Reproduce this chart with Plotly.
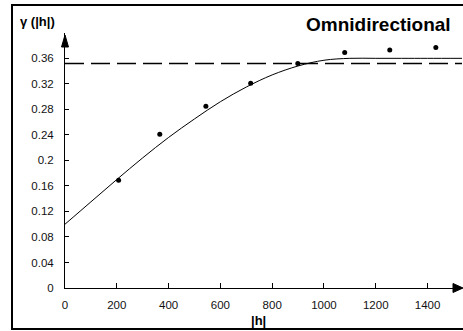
import plotly.graph_objects as go

# Experimental variogram points
lag = [207, 366, 544, 717, 899, 1080, 1254, 1432]
gamma = [0.169, 0.241, 0.285, 0.321, 0.352, 0.369, 0.373, 0.377]

# Fitted model curve
model_h = [0, 100, 200, 300, 400, 500, 600, 700, 800, 900, 1000, 1100, 1200, 1300, 1400, 1533]
model_g = [0.100, 0.135, 0.170, 0.204, 0.236, 0.265, 0.292, 0.315, 0.334, 0.348, 0.357, 0.360, 0.360, 0.360, 0.360, 0.360]

# Sill (dashed)
sill_h = [0, 1533]
sill_g = [0.352, 0.352]

x_ticks = [0, 200, 400, 600, 800, 1000, 1200, 1400]
x_ticktext = ["0", "200", "400", "600", "800", "1000", "1200", "1400"]
y_ticks = [0, 0.04, 0.08, 0.12, 0.16, 0.2, 0.24, 0.28, 0.32, 0.36]
y_ticktext = ["0", "0.04", "0.08", "0.12", "0.16", "0.2", "0.24", "0.28", "0.32", "0.36"]

W, H = 463, 331
L, R, T, B = 65, 1, 33, 43
PW, PH = W - L - R, H - T - B

def px(x):
    return (x - L) / PW

def py(y):
    return (H - B - y) / PH

FONT = "Liberation Sans, Arial, sans-serif"

fig = go.Figure()
fig.add_trace(go.Scatter(x=sill_h, y=sill_g, mode="lines",
                         line=dict(color="black", width=1.4, dash="19px,7px"),
                         hoverinfo="skip", showlegend=False))
fig.add_trace(go.Scatter(x=model_h, y=model_g, mode="lines",
                         line=dict(color="black", width=1, shape="spline"),
                         showlegend=False))
fig.add_trace(go.Scatter(x=lag, y=gamma, mode="markers",
                         marker=dict(color="black", size=5),
                         showlegend=False))

fig.update_layout(
    width=W, height=H,
    margin=dict(l=L, r=R, t=T, b=B),
    paper_bgcolor="white", plot_bgcolor="white",
    font=dict(family=FONT, size=11, color="black"),
    xaxis=dict(range=[0, 1533], tickvals=x_ticks, ticktext=x_ticktext,
               showgrid=False, zeroline=False, showline=True, linecolor="black",
               linewidth=1, ticks="inside", ticklen=5, tickcolor="black",
               ticklabelstandoff=6, tickfont=dict(size=11.5, color="#111")),
    yaxis=dict(range=[0, 0.3997], tickvals=y_ticks, ticktext=y_ticktext,
               showgrid=False, zeroline=False, showline=True, linecolor="black",
               linewidth=1, ticks="inside", ticklen=4, tickcolor="black",
               ticklabelstandoff=8, tickfont=dict(size=11.5, color="#111")),
)

shapes = [
    # outer frame
    dict(type="rect", xref="paper", yref="paper",
         x0=px(12), x1=px(470), y0=py(329), y1=py(5),
         line=dict(color="black", width=2), fillcolor="rgba(0,0,0,0)"),
    # y axis arrow head
    dict(type="path", xref="paper", yref="paper",
         path=f"M {px(61.5)} {py(47)} L {px(65)} {py(35)} L {px(68.5)} {py(47)} Z",
         fillcolor="black", line=dict(color="black", width=1)),
    # x axis arrow head
    dict(type="path", xref="paper", yref="paper",
         path=f"M {px(453)} {py(283.5)} L {px(463)} {py(288)} L {px(453)} {py(292.5)} Z",
         fillcolor="black", line=dict(color="black", width=1)),
]
fig.update_layout(shapes=shapes)

fig.add_annotation(text="<b>Omnidirectional</b>", xref="paper", yref="paper",
                   x=px(453), y=py(25), xanchor="right", yanchor="middle",
                   showarrow=False, font=dict(size=19, family=FONT, color="black"))
fig.add_annotation(text="<b>γ (|h|)</b>", xref="paper", yref="paper",
                   x=px(37.5), y=py(22), xanchor="center", yanchor="middle",
                   showarrow=False, font=dict(size=13, family=FONT, color="black"))
fig.add_annotation(text="<b>|h|</b>", xref="paper", yref="paper",
                   x=px(258), y=py(320), xanchor="center", yanchor="middle",
                   showarrow=False, font=dict(size=13, family=FONT, color="black"))

fig.write_html("out.html")
